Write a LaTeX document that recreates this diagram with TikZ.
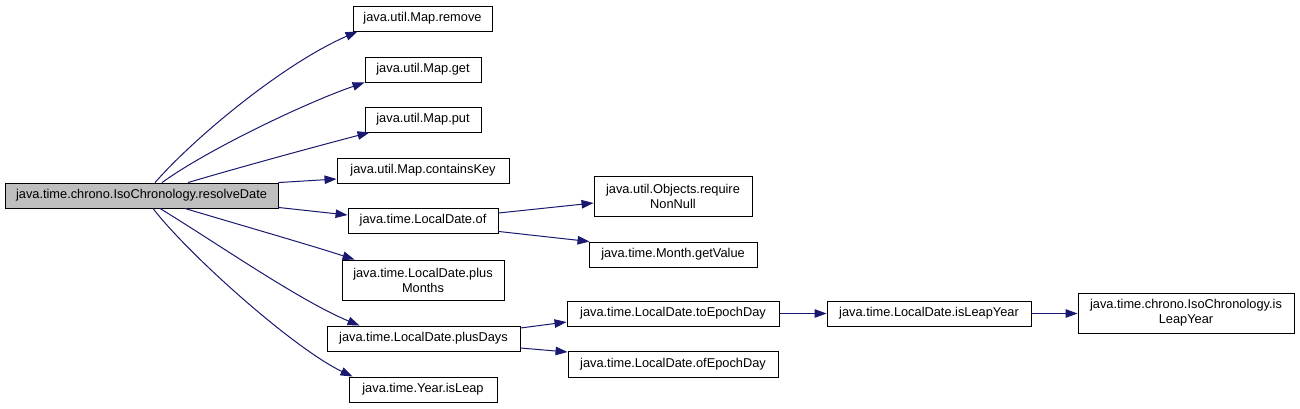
\documentclass[tikz,border=0pt]{standalone}
\usepackage{fontspec}
\setmainfont{Liberation Sans}
\usetikzlibrary{arrows.meta}
\definecolor{edgecol}{HTML}{191970}
\definecolor{rootfill}{HTML}{BFBFBF}
\begin{document}
\begin{tikzpicture}[x=1bp,y=-1bp,
  fn/.style={draw=black, line width=0.9bp, fill=white, inner sep=0pt, align=center,
    font=\fontsize{12.8bp}{15bp}\selectfont},
  call/.style={draw=edgecol, line width=1bp, -{Triangle[length=12bp,width=8.5bp]}, fill=none}]
\fill[white] (0,0) rectangle (1300,408);
\useasboundingbox (0,0) rectangle (1300,408);

\node[fn, fill=rootfill, minimum width=273bp, minimum height=25bp] (root) at (141.5,195.5) {java.time.chrono.IsoChronology.resolveDate};
\node[fn, minimum width=139bp, minimum height=25bp] (rem) at (422.5,18.5) {java.util.Map.remove};
\node[fn, minimum width=116bp, minimum height=25bp] (get) at (423,69.5) {java.util.Map.get};
\node[fn, minimum width=116bp, minimum height=25bp] (put) at (423,119.5) {java.util.Map.put};
\node[fn, minimum width=172bp, minimum height=25bp] (cont) at (423,170.5) {java.util.Map.containsKey};
\node[fn, minimum width=150bp, minimum height=25bp] (of) at (423,220.5) {java.time.LocalDate.of};
\node[fn, minimum width=162bp, minimum height=40bp] (pm) at (423,280) {java.time.LocalDate.plus\\Months};
\node[fn, minimum width=193bp, minimum height=25bp] (pd) at (423.5,338.5) {java.time.LocalDate.plusDays};
\node[fn, minimum width=148bp, minimum height=25bp] (yl) at (423,389.5) {java.time.Year.isLeap};
\node[fn, minimum width=158bp, minimum height=40bp] (req) at (673,196) {java.util.Objects.require\\NonNull};
\node[fn, minimum width=168bp, minimum height=25bp] (gv) at (673,254.5) {java.time.Month.getValue};
\node[fn, minimum width=212bp, minimum height=25bp] (toe) at (673,313.5) {java.time.LocalDate.toEpochDay};
\node[fn, minimum width=210bp, minimum height=26bp] (ofe) at (673,364) {java.time.LocalDate.ofEpochDay};
\node[fn, minimum width=204bp, minimum height=25bp] (ily) at (929,313.5) {java.time.LocalDate.isLeapYear};
\node[fn, minimum width=216bp, minimum height=40bp] (iso) at (1186,313) {java.time.chrono.IsoChronology.is\\LeapYear};

\draw[call] ([xshift=13.5bp]root.north) .. controls (195,137) and (283,64) .. ([xshift=5bp]rem.south west);
\draw[call] ([xshift=20.5bp]root.north) .. controls (207,150) and (305,103) .. (get.south west);
\draw[call] ([xshift=46.5bp]root.north) .. controls (230,170) and (310,148) .. ([xshift=5bp]put.south west);
\draw[call] (root.north east) -- ([yshift=-8.5bp]cont.west);
\draw[call] ([yshift=1bp]root.south east) -- ([yshift=5.5bp]of.west);
\draw[call] ([xshift=43.5bp]root.south) .. controls (230,222) and (310,245) .. ([xshift=13bp]pm.north west);
\draw[call] ([xshift=18.5bp]root.south) .. controls (215,242) and (300,301) .. ([xshift=33bp]pd.north west);
\draw[call] ([xshift=11.5bp]root.south) .. controls (188,254) and (293,348) .. ([xshift=4bp]yl.north west);
\draw[call] ([yshift=7.5bp]of.east) -- ([yshift=-7bp]req.west);
\draw[call] ([yshift=2bp]of.south east) -- ([xshift=1bp]gv.north west);
\draw[call] ([yshift=10.5bp]pd.east) -- ([yshift=-8.5bp]toe.west);
\draw[call] ([yshift=-9.5bp]pd.east) -- ([yshift=12bp]ofe.west);
\draw[call] (toe.east) -- (ily.west);
\draw[call] (ily.east) -- ([yshift=-0.5bp]iso.west);
\end{tikzpicture}
\end{document}
